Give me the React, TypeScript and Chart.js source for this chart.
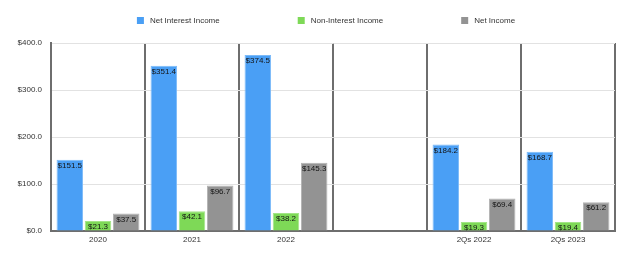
import React, { useEffect, useRef } from 'react';
import { Chart, registerables } from 'chart.js';

Chart.register(...registerables);

const categories = ['2020', '2021', '2022', '', '2Qs 2022', '2Qs 2023'];
const netInterestIncome = [151.5, 351.4, 374.5, null, 184.2, 168.7];
const nonInterestIncome = [21.3, 42.1, 38.2, null, 19.3, 19.4];
const netIncome = [37.5, 96.7, 145.3, null, 69.4, 61.2];
const seriesNames = ['Net Interest Income', 'Non-Interest Income', 'Net Income'];
const yMin = 0;
const yMax = 400;
const yStep = 100;

const FONT = '"Liberation Sans", Arial, Helvetica, sans-serif';
const FS = 8;
const fills = ['#4a9ff5', '#7ed957', '#939393'];
const borders = ['#7cbaf8', '#a3e587', '#b3b3b3'];

const fmt = (v: number) => '$' + v.toFixed(1);

const valueLabels = {
  id: 'valueLabels',
  afterDatasetsDraw(chart: any) {
    const ctx = chart.ctx;
    ctx.save();
    ctx.font = `${FS}px ${FONT}`;
    ctx.fillStyle = '#141414';
    ctx.textAlign = 'center';
    ctx.textBaseline = 'middle';
    chart.data.datasets.forEach((ds: any, di: number) => {
      const meta = chart.getDatasetMeta(di);
      meta.data.forEach((el: any, i: number) => {
        const v = ds.data[i];
        if (v === null || v === undefined) return;
        ctx.fillText(fmt(v), el.x, el.y + 6);
      });
    });
    ctx.restore();
  },
};

const customLegend = {
  id: 'customLegend',
  afterDraw(chart: any) {
    const ctx = chart.ctx;
    ctx.save();
    ctx.font = `${FS}px ${FONT}`;
    ctx.textBaseline = 'middle';
    const box = 7;
    const gapText = 6;
    const gapItem = 78;
    const items = chart.data.datasets.map((ds: any, i: number) => ({
      label: ds.label,
      color: fills[i],
      w: box + gapText + ctx.measureText(ds.label).width,
    }));
    const total = items.reduce((s: number, it: any) => s + it.w, 0) + gapItem * (items.length - 1);
    let x = (chart.width - total) / 2 + 6;
    const y = 20.5;
    items.forEach((it: any) => {
      ctx.fillStyle = it.color;
      ctx.fillRect(x, y - box / 2, box, box);
      ctx.fillStyle = '#333';
      ctx.textAlign = 'left';
      ctx.fillText(it.label, x + box + gapText, y);
      x += it.w + gapItem;
    });
    ctx.restore();
  },
};

export default function App() {
  const ref = useRef<HTMLCanvasElement | null>(null);
  useEffect(() => {
    if (!ref.current) return;
    const seriesData = [netInterestIncome, nonInterestIncome, netIncome];
    const chart = new Chart(ref.current, {
      type: 'bar',
      data: {
        labels: categories,
        datasets: seriesData.map((d, i) => ({
          label: seriesNames[i],
          data: d,
          backgroundColor: fills[i],
          borderColor: borders[i],
          borderWidth: 1,
          categoryPercentage: 0.9,
          barPercentage: 0.94,
        })),
      },
      options: {
        animation: false,
        responsive: false,
        maintainAspectRatio: false,
        layout: { padding: { top: 43, right: 25, left: 0, bottom: 0 } },
        plugins: {
          legend: { display: false },
          tooltip: { enabled: false },
        },
        scales: {
          x: {
            grid: { offset: true, color: '#6e6e6e', lineWidth: 2, drawTicks: false },
            border: { color: '#6e6e6e', width: 2 },
            ticks: { font: { family: FONT, size: FS }, color: '#333', padding: 4 },
            afterFit: (s: any) => { s.height = 39; },
          },
          y: {
            min: yMin,
            max: yMax,
            grid: { color: '#e2e2e2', lineWidth: 1, drawTicks: false },
            border: { color: '#6e6e6e', width: 2 },
            ticks: {
              stepSize: yStep,
              font: { family: FONT, size: FS },
              color: '#333',
              padding: 9,
              callback: (v: any) => fmt(Number(v)),
            },
            afterFit: (s: any) => { s.width = 51; },
          },
        },
      },
      plugins: [valueLabels, customLegend],
    });
    return () => chart.destroy();
  }, []);
  return (
    <div style={{ position: 'fixed', left: 0, top: 0, width: 640, height: 270, background: '#fff' }}>
      <canvas ref={ref} width={640} height={270} style={{ display: 'block' }} />
    </div>
  );
}
